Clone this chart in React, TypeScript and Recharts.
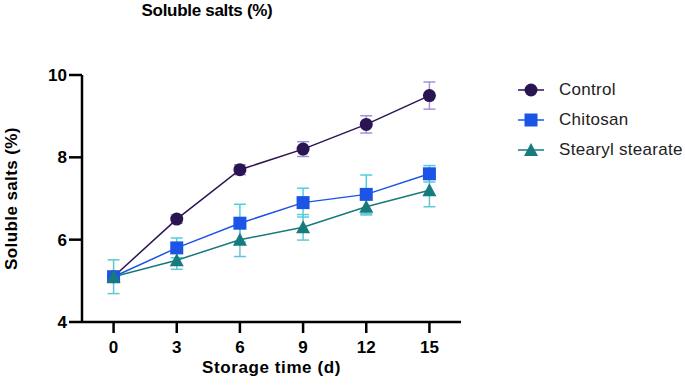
import React from 'react';
import { LineChart, Line, XAxis, YAxis, ErrorBar } from 'recharts';

const days = [0, 3, 6, 9, 12, 15];
const yTicks = [4, 6, 8, 10];

const control = [5.1, 6.5, 7.7, 8.2, 8.8, 9.5];
const controlErr = [0.05, 0.1, 0.12, 0.18, 0.21, 0.33];
const chitosan = [5.1, 5.8, 6.4, 6.9, 7.1, 7.6];
const chitosanErr = [0.05, 0.24, 0.46, 0.35, 0.47, 0.2];
const stearyl = [5.1, 5.5, 6.0, 6.3, 6.8, 7.2];
const stearylErr = [0.41, 0.22, 0.41, 0.31, 0.2, 0.4];

const FONT = '"Liberation Sans", Arial, sans-serif';
const boldText = { fill: '#000', fontSize: 17, fontWeight: 'bold', fontFamily: FONT };

const series = [
  { key: 'control', name: 'Control', color: '#2b1452', err: '#a493d6', shape: 'circle' },
  { key: 'chitosan', name: 'Chitosan', color: '#1c55e6', err: '#4ccfe6', shape: 'square' },
  { key: 'stearyl', name: 'Stearyl stearate', color: '#177a7c', err: '#62c6d4', shape: 'triangle' },
];

const data = days.map((d, i) => ({
  day: d,
  control: control[i],
  controlErr: controlErr[i],
  chitosan: chitosan[i],
  chitosanErr: chitosanErr[i],
  stearyl: stearyl[i],
  stearylErr: stearylErr[i],
}));

const Marker = ({ cx, cy, shape, color }: any) => {
  if (cx == null || cy == null) return null;
  if (shape === 'circle') return <circle cx={cx} cy={cy} r={6.5} fill={color} />;
  if (shape === 'square') return <rect x={cx - 6.5} y={cy - 6.5} width={13} height={13} fill={color} />;
  return <polygon points={`${cx},${cy - 7} ${cx - 7},${cy + 6} ${cx + 7},${cy + 6}`} fill={color} />;
};

// legend kept outside recharts so it doesn't eat plot width
const SideLegend = () => (
  <div style={{ position: 'absolute', left: 517, top: 75, fontFamily: FONT, fontSize: 17, letterSpacing: 0.3, color: '#222' }}>
    {series.map((s) => (
      <div key={s.key} style={{ display: 'flex', alignItems: 'center', height: 30 }}>
        <svg width={28} height={16} style={{ marginRight: 14 }}>
          <line x1={1} y1={8} x2={27} y2={8} stroke={s.color} strokeWidth={1.5} />
          <Marker cx={14} cy={8} shape={s.shape} color={s.color} />
        </svg>
        <span>{s.name}</span>
      </div>
    ))}
  </div>
);

export default function App() {
  return (
    <div style={{ position: 'absolute', left: 0, top: 0, width: 685, height: 388, background: '#fff' }}>
      <div
        style={{
          position: 'absolute',
          left: 0,
          width: 414,
          top: 1,
          textAlign: 'center',
          fontFamily: FONT,
          fontWeight: 'bold',
          fontSize: 17,
          letterSpacing: -0.3,
          color: '#000',
        }}
      >
        Soluble salts (%)
      </div>
      <LineChart width={685} height={388} data={data} margin={{ top: 75, right: 224, bottom: 0, left: 0 }}>
        <XAxis
          dataKey="day"
          type="number"
          domain={[-1.5, 16.5]}
          ticks={days}
          height={66}
          tickSize={11}
          tickMargin={8}
          axisLine={{ stroke: '#000', strokeWidth: 2.5 }}
          tickLine={{ stroke: '#000', strokeWidth: 2.5 }}
          tick={boldText}
          label={{
            value: 'Storage time (d)',
            position: 'insideBottom',
            offset: 15,
            style: { ...boldText, letterSpacing: 0.6 },
          }}
        />
        <YAxis
          type="number"
          domain={[4, 10]}
          ticks={yTicks}
          width={82}
          tickSize={13}
          tickMargin={2}
          axisLine={{ stroke: '#000', strokeWidth: 2.5 }}
          tickLine={{ stroke: '#000', strokeWidth: 2.5 }}
          tick={boldText}
          label={{
            value: 'Soluble salts (%)',
            angle: -90,
            position: 'insideLeft',
            offset: 11,
            style: { ...boldText, textAnchor: 'middle', letterSpacing: 0.4 },
          }}
        />
        {series.map((s) => (
          <Line
            key={s.key}
            dataKey={s.key}
            name={s.name}
            stroke={s.color}
            strokeWidth={1.5}
            isAnimationActive={false}
            dot={(p: any) => <Marker key={`${s.key}-${p.index}`} cx={p.cx} cy={p.cy} shape={s.shape} color={s.color} />}
            activeDot={false}
          >
            <ErrorBar dataKey={`${s.key}Err`} direction="y" width={6} stroke={s.err} strokeWidth={1.5} />
          </Line>
        ))}
      </LineChart>
      <SideLegend />
    </div>
  );
}
